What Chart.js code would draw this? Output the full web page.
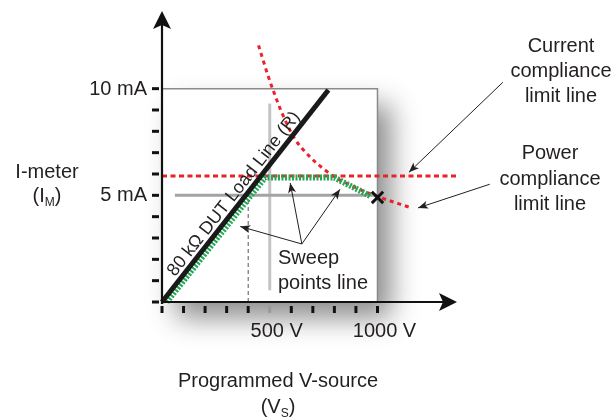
<!DOCTYPE html>
<html>
<head>
<meta charset="utf-8">
<script src="https://cdn.jsdelivr.net/npm/chart.js@4"></script>
<style>
  html, body { margin: 0; padding: 0; background: #fff; }
  canvas { display: block; }
</style>
</head>
<body>
<canvas id="sweep-chart" width="614" height="419"></canvas>
<script>
"use strict";
// values (V in volts, I in mA)
const loadV = [0, 772];
const loadI = [0, 9.94];
const sweepV = [22, 478, 800, 972];
const sweepI = [0, 5.83, 5.83, 4.94];
const currentLimitV = [0, 1369];
const currentLimitI = [5.91, 5.91];
const powerV = [448, 491, 521, 560, 614, 683, 752, 806, 899, 991, 1160];
const powerI = [12.03, 10.64, 9.78, 8.78, 7.69, 6.84, 6.22, 5.83, 5.36, 4.98, 4.40];
const boxV = [0, 1000, 1000];
const boxI = [10, 10, 0];
const fiveMaV = [60, 1000];
const fiveMaI = [5, 5];
const midV = [500, 500];
const midI = [0.55, 9.3];
const dropV = [400, 400];
const dropI = [0, 5];
const endV = [1000];
const endI = [4.9];

const xTicks = [0, 100, 200, 300, 400, 500, 600, 700, 800, 900, 1000];
const yTicks = [0, 1, 2, 3, 4, 5, 6, 7, 8, 9, 10];
const xTickLabels = ['500 V', '1000 V'];
const xTickLabelValues = [500, 1000];
const yTickLabels = ['5 mA', '10 mA'];
const yTickLabelValues = [5, 10];

function pts(xs, ys) {
    return xs.map((x, i) => ({ x: x, y: ys[i] }));
}

const FONT = '"Liberation Sans", Arial, Helvetica, sans-serif';
const RED = '#ea2229';
const GREEN = '#22a855';

function arrow(ctx, x0, y0, x1, y1, len, half) {
    ctx.beginPath();
    ctx.moveTo(x0, y0);
    ctx.lineTo(x1, y1);
    ctx.stroke();
    const a = Math.atan2(y1 - y0, x1 - x0);
    ctx.beginPath();
    ctx.moveTo(x1, y1);
    ctx.lineTo(x1 - len * Math.cos(a) + half * Math.sin(a), y1 - len * Math.sin(a) - half * Math.cos(a));
    ctx.lineTo(x1 - len * 0.75 * Math.cos(a), y1 - len * 0.75 * Math.sin(a));
    ctx.lineTo(x1 - len * Math.cos(a) - half * Math.sin(a), y1 - len * Math.sin(a) + half * Math.cos(a));
    ctx.closePath();
    ctx.fill();
}

function subLabel(ctx, cx, base, main, sub) {
    ctx.font = '20px ' + FONT;
    const w1 = ctx.measureText('(' + main).width;
    const w3 = ctx.measureText(')').width;
    ctx.font = '12px ' + FONT;
    const w2 = ctx.measureText(sub).width;
    let x = cx - (w1 + w2 + w3) / 2;
    ctx.textAlign = 'left';
    ctx.textBaseline = 'alphabetic';
    ctx.font = '20px ' + FONT;
    ctx.fillText('(' + main, x, base);
    ctx.font = '12px ' + FONT;
    ctx.fillText(sub, x + w1, base + 4);
    ctx.font = '20px ' + FONT;
    ctx.fillText(')', x + w1 + w2, base);
}

const boxShadow = {
    id: 'boxShadow',
    beforeDatasetsDraw(chart) {
        const ctx = chart.ctx;
        const xs = chart.scales.x, ys = chart.scales.y;
        const l = xs.getPixelForValue(0), r = xs.getPixelForValue(1000);
        const t = ys.getPixelForValue(10), b = ys.getPixelForValue(0);
        ctx.save();
        ctx.shadowColor = 'rgba(0,0,0,0.45)';
        ctx.shadowBlur = 26;
        ctx.shadowOffsetX = 14;
        ctx.shadowOffsetY = 16;
        ctx.fillStyle = '#fff';
        ctx.fillRect(l, t, r - l, b - t);
        ctx.restore();
    }
};

const decorations = {
    id: 'decorations',
    afterDatasetsDraw(chart) {
        const ctx = chart.ctx;
        const xs = chart.scales.x, ys = chart.scales.y;
        const px = v => xs.getPixelForValue(v);
        const py = v => ys.getPixelForValue(v);
        const ox = px(0), oy = py(0);
        const area = chart.chartArea;
        ctx.save();

        // axes with arrow heads
        ctx.strokeStyle = '#111';
        ctx.fillStyle = '#111';
        ctx.lineWidth = 2.2;
        ctx.beginPath();
        ctx.moveTo(ox, oy + 2);
        ctx.lineTo(ox, area.top + 14);
        ctx.moveTo(ox - 1, oy);
        ctx.lineTo(area.right - 14, oy);
        ctx.stroke();
        ctx.beginPath();
        ctx.moveTo(ox, area.top);
        ctx.lineTo(ox - 9, area.top + 18);
        ctx.lineTo(ox, area.top + 14);
        ctx.lineTo(ox + 9, area.top + 18);
        ctx.closePath();
        ctx.fill();
        ctx.beginPath();
        ctx.moveTo(area.right, oy);
        ctx.lineTo(area.right - 18, oy - 9);
        ctx.lineTo(area.right - 14, oy);
        ctx.lineTo(area.right - 18, oy + 9);
        ctx.closePath();
        ctx.fill();

        // tick marks
        ctx.lineWidth = 3;
        yTicks.forEach(v => {
            ctx.beginPath();
            ctx.moveTo(ox - 10, py(v));
            ctx.lineTo(ox - 3, py(v));
            ctx.stroke();
        });
        xTicks.forEach(v => {
            ctx.strokeStyle = v === 500 ? '#999' : '#111';
            ctx.beginPath();
            ctx.moveTo(px(v), oy + 4);
            ctx.lineTo(px(v), oy + 11);
            ctx.stroke();
        });

        // tick labels
        ctx.fillStyle = '#231f20';
        ctx.font = '20px ' + FONT;
        ctx.textBaseline = 'alphabetic';
        ctx.textAlign = 'right';
        yTickLabelValues.forEach((v, i) => ctx.fillText(yTickLabels[i], ox - 15, py(v) + 6));
        ctx.textAlign = 'center';
        xTickLabelValues.forEach((v, i) => ctx.fillText(xTickLabels[i], px(v) + 7, oy + 35));

        // axis titles
        ctx.fillText('I-meter', 47, 178);
        subLabel(ctx, 47, 202, 'I', 'M');
        ctx.textAlign = 'center';
        ctx.fillText('Programmed V-source', 278, 387);
        subLabel(ctx, 278, 413, 'V', 'S');

        // load line label, rotated along the line
        const a0x = px(loadV[0]), a0y = py(loadI[0]);
        const a1x = px(loadV[1]), a1y = py(loadI[1]);
        const ang = Math.atan2(a1y - a0y, a1x - a0x);
        const t = 0.48;
        ctx.save();
        ctx.translate(a0x + (a1x - a0x) * t, a0y + (a1y - a0y) * t);
        ctx.rotate(ang);
        ctx.font = '18px ' + FONT;
        ctx.textAlign = 'center';
        ctx.textBaseline = 'alphabetic';
        ctx.fillText('80 k\u03A9 DUT Load Line (R)', 0, -5);
        ctx.restore();

        // callout texts
        ctx.font = '20px ' + FONT;
        ctx.textAlign = 'center';
        ctx.fillText('Current', 561, 52);
        ctx.fillText('compliance', 561, 77);
        ctx.fillText('limit line', 561, 102);
        ctx.fillText('Power', 550, 159);
        ctx.fillText('compliance', 550, 185);
        ctx.fillText('limit line', 550, 210);
        ctx.textAlign = 'left';
        ctx.fillText('Sweep', 278, 264);
        ctx.fillText('points line', 278, 289);

        // callout arrows
        ctx.strokeStyle = '#231f20';
        ctx.fillStyle = '#231f20';
        ctx.lineWidth = 1;
        arrow(ctx, px(1582), py(10.3), px(1146), py(6.08), 10, 4);
        arrow(ctx, px(1521), py(5.52), px(1188), py(4.41), 10, 4);
        arrow(ctx, px(649), py(2.72), px(363), py(3.54), 10, 4);
        arrow(ctx, px(649), py(2.72), px(595), py(5.58), 10, 4);
        arrow(ctx, px(649), py(2.72), px(826), py(5.28), 10, 4);
        ctx.restore();
    }
};

const ctx = document.getElementById('sweep-chart').getContext('2d');
new Chart(ctx, {
    type: 'scatter',
    data: {
        datasets: [
            { data: pts(endV, endI), showLine: false, pointStyle: 'crossRot', pointRadius: 8,
              borderColor: '#111', borderWidth: 3, order: 0, clip: false },
            { data: pts(loadV, loadI), showLine: true, borderColor: '#1a1a1a', borderWidth: 5,
              pointRadius: 0, order: 1, clip: false },
            { data: pts(sweepV, sweepI), showLine: true, borderColor: GREEN, borderWidth: 6,
              borderDash: [2, 1.5], pointRadius: 0, order: 2, clip: false },
            { data: pts(currentLimitV, currentLimitI), showLine: true, borderColor: RED, borderWidth: 3,
              borderDash: [5, 3.5], pointRadius: 0, order: 3, clip: false },
            { data: pts(powerV, powerI), showLine: true, borderColor: RED, borderWidth: 3,
              borderDash: [4, 4], cubicInterpolationMode: 'monotone', pointRadius: 0, order: 3, clip: false },
            { data: pts(dropV, dropI), showLine: true, borderColor: '#555', borderWidth: 1,
              borderDash: [4, 3], pointRadius: 0, order: 4, clip: false },
            { data: pts(fiveMaV, fiveMaI), showLine: true, borderColor: '#a3a3a3', borderWidth: 3,
              pointRadius: 0, order: 5, clip: false },
            { data: pts(midV, midI), showLine: true, borderColor: '#c4c4c4', borderWidth: 3,
              pointRadius: 0, order: 5, clip: false },
            { data: pts(boxV, boxI), showLine: true, borderColor: '#8a8a8a', borderWidth: 1.5,
              pointRadius: 0, order: 6, clip: false }
        ]
    },
    options: {
        responsive: false,
        animation: false,
        events: [],
        layout: { padding: { left: 162, right: 157, top: 8, bottom: 117 } },
        plugins: { legend: { display: false }, tooltip: { enabled: false } },
        scales: {
            x: { type: 'linear', min: 0, max: 1369, display: false },
            y: { type: 'linear', min: 0, max: 13.64, display: false }
        }
    },
    plugins: [boxShadow, decorations]
});
</script>
</body>
</html>
